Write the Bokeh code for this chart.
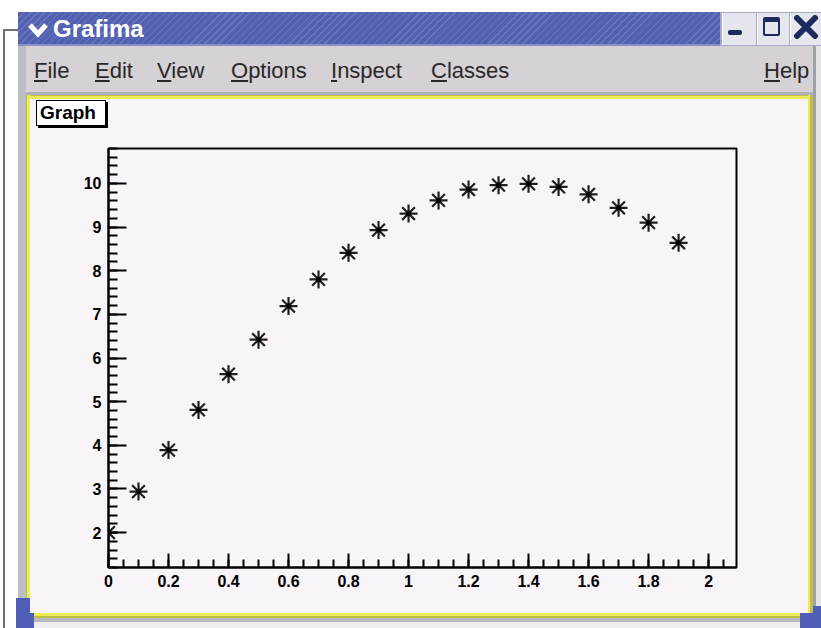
import numpy as np
from bokeh.plotting import figure
from bokeh.models import FixedTicker, Range1d, Div
from bokeh.layouts import column, row
from bokeh.embed import file_html
from bokeh.resources import INLINE

# ---- data ----
x_vals = [0.0, 0.1, 0.2, 0.3, 0.4, 0.5, 0.6, 0.7, 0.8, 0.9,
          1.0, 1.1, 1.2, 1.3, 1.4, 1.5, 1.6, 1.7, 1.8, 1.9]
y_vals = [2.00, 2.94, 3.89, 4.81, 5.63, 6.42, 7.19, 7.80, 8.41, 8.93,
          9.31, 9.61, 9.86, 9.96, 9.99, 9.92, 9.75, 9.44, 9.10, 8.64]
x_ticks = [0, 0.2, 0.4, 0.6, 0.8, 1, 1.2, 1.4, 1.6, 1.8, 2]
x_tick_labels = ["0", "0.2", "0.4", "0.6", "0.8", "1", "1.2", "1.4", "1.6", "1.8", "2"]
y_ticks = [2, 3, 4, 5, 6, 7, 8, 9, 10]
y_tick_labels = ["2", "3", "4", "5", "6", "7", "8", "9", "10"]
window_title = "Grafima"
menu_items = ["File", "Edit", "View", "Options", "Inspect", "Classes"]
help_item = "Help"
pad_title = "Graph"

W = 821
TOP_H = 130        # reference y 0..130
MID_H = 483        # reference y 130..613
BOT_H = 15         # reference y 613..628
LEFT_W = 30        # reference x 0..30
FIG_W = 778        # reference x 30..808
RIGHT_W = 13       # reference x 808..821

CANVAS_BG = "#f8f4f8"
MENU_BG = "#d5d1d5"
YEL = "#ecec58"
OLIVE = "#bebe48"
FRAME = "#bdbdc5"
BLUE = "#5361b1"
DESK_BLUE = "#4f5fb8"
FONT = "'Liberation Sans', Arial, sans-serif"


def rect(x0, y0, x1, y1, style, ox=0, oy=0):
    return (f'<div style="position:absolute;left:{x0 - ox}px;top:{y0 - oy}px;'
            f'width:{x1 - x0}px;height:{y1 - y0}px;{style}"></div>')


def txt(x, ymid, s, size, style, underline_first=False):
    if underline_first:
        s = f'<span style="text-decoration:underline">{s[0]}</span>{s[1:]}'
    return (f'<div style="position:absolute;left:{x}px;top:{ymid - size * 0.6:.1f}px;'
            f'line-height:{size * 1.2:.1f}px;font-size:{size}px;font-family:{FONT};'
            f'white-space:nowrap;{style}">{s}</div>')


def wrap(inner, w, h, bg=CANVAS_BG):
    return (f'<div style="position:relative;width:{w}px;height:{h}px;overflow:hidden;'
            f'background:{bg};">{inner}</div>')


# ---- top chrome: title bar, menu bar, canvas top with pad title ----
top = []
top.append(rect(0, 0, 821, 12, "background:white;"))
top.append(rect(0, 0, 18, 130, "background:white;"))
top.append(rect(3, 29, 18, 31, "background:#707078;"))
top.append(rect(3, 29, 5, 130, "background:#707078;"))
top.append(rect(18, 12, 30, 130, f"background:{FRAME};"))
top.append(rect(18, 12, 722, 46,
                f"background:repeating-linear-gradient(135deg,{BLUE} 0px,{BLUE} 4px,#6a77c0 4px,#6a77c0 5px);"))
top.append(rect(18, 44, 722, 46, "background:#8890c8;"))
top.append(rect(720, 12, 821, 46, "background:#a8acc8;"))
for bx0, bx1 in [(722, 756), (757, 789), (790, 821)]:
    top.append(rect(bx0, 13, bx1, 45, "background:#e6e6ee;border-left:1px solid #ffffff;"))
top.append(rect(728, 30, 742, 35, "background:#1e2a5e;border-radius:2px;"))
top.append(rect(763, 17, 780, 36, "background:#e6e6ee;border:2px solid #1e2a5e;border-top-width:5px;"
                                   "border-radius:2px;box-sizing:border-box;"))
top.append(
    '<svg style="position:absolute;left:793px;top:15px" width="26" height="24" viewBox="0 0 26 24">'
    '<path d="M4 3 L22 21 M22 3 L4 21" stroke="#1e2a5e" stroke-width="6" stroke-linecap="round"/></svg>')
top.append(
    '<svg style="position:absolute;left:27px;top:21px" width="22" height="18" viewBox="0 0 22 18">'
    '<path d="M3 4 L11 13 L19 4" stroke="white" stroke-width="5" fill="none" stroke-linejoin="miter"/></svg>')
top.append(txt(53, 29, window_title, 24, "color:white;font-weight:bold;"))
top.append(rect(26, 46, 821, 95, f"background:{MENU_BG};"))
top.append(rect(26, 92, 821, 95, "background:#b0b0b8;"))
menu_x = [34, 95, 157, 231, 331, 431]
for mx, item in zip(menu_x, menu_items):
    top.append(txt(mx, 71, item, 22, "color:#282828;", underline_first=True))
top.append(txt(764, 71, help_item, 22, "color:#282828;", underline_first=True))
top.append(rect(26, 95, 813, 99, f"background:{YEL};border-top:1px solid {OLIVE};box-sizing:border-box;"))
top.append(rect(26, 95, 30, 130, f"background:{YEL};border-left:1px solid {OLIVE};box-sizing:border-box;"))
top.append(rect(808, 95, 813, 130, f"background:{OLIVE};border-left:2px solid {YEL};box-sizing:border-box;"))
top.append(rect(813, 46, 821, 130, "background:#e4e4e8;border-left:3px solid #a0a0a8;box-sizing:border-box;"))
top.append(rect(36, 100, 106, 126,
                "background:white;border:1px solid black;box-shadow:2px 2px 0 black;box-sizing:border-box;"))
top.append(txt(40, 113, pad_title, 19, "color:black;font-weight:bold;"))
top_div = Div(text=wrap("".join(top), W, TOP_H), width=W, height=TOP_H, margin=0,
              styles={"background-color": CANVAS_BG})

# ---- left / right / bottom chrome ----
left = [rect(0, 130, 18, 613, "background:white;", oy=130),
        rect(3, 130, 5, 613, "background:#707078;", oy=130),
        rect(18, 130, 26, 613, f"background:{FRAME};", oy=130),
        rect(26, 130, 30, 613, f"background:{YEL};border-left:1px solid {OLIVE};box-sizing:border-box;", oy=130),
        rect(16, 598, 34, 613, f"background:{DESK_BLUE};", oy=130)]
left_div = Div(text=wrap("".join(left), LEFT_W, MID_H), width=LEFT_W, height=MID_H, margin=0)

right = [rect(808, 130, 813, 613, f"background:{OLIVE};border-left:2px solid {YEL};box-sizing:border-box;",
              ox=808, oy=130),
         rect(813, 130, 821, 613, "background:#e4e4e8;border-left:3px solid #a0a0a8;box-sizing:border-box;",
              ox=808, oy=130),
         rect(813, 606, 821, 613, f"background:{DESK_BLUE};", ox=808, oy=130)]
right_div = Div(text=wrap("".join(right), RIGHT_W, MID_H), width=RIGHT_W, height=MID_H, margin=0)

bot = [rect(0, 613, 821, 628, "background:white;", oy=613),
       rect(3, 613, 5, 628, "background:#707078;", oy=613),
       rect(18, 613, 26, 620, f"background:{FRAME};", oy=613),
       rect(26, 613, 813, 618, f"background:{YEL};border-bottom:2px solid {OLIVE};box-sizing:border-box;", oy=613),
       rect(26, 618, 813, 622, "background:#b8b8c0;", oy=613),
       rect(26, 622, 813, 628, "background:#eeeef2;", oy=613),
       rect(16, 598, 34, 628, f"background:{DESK_BLUE};", oy=613),
       rect(800, 606, 821, 628, f"background:{DESK_BLUE};", oy=613)]
bot_div = Div(text=wrap("".join(bot), W, BOT_H), width=W, height=BOT_H, margin=0)

# ---- the graph ----
p = figure(width=FIG_W, height=MID_H, output_backend="svg", toolbar_location=None,
           x_range=Range1d(0, 2.093), y_range=Range1d(1.2, 10.8),
           min_border_left=108 - 30, min_border_right=FIG_W - (736 - 30),
           min_border_top=148 - 130, min_border_bottom=MID_H - (567 - 130))
p.background_fill_color = CANVAS_BG
p.border_fill_color = CANVAS_BG
p.outline_line_color = "black"
p.outline_line_width = 2
p.grid.visible = False

minor_x = [round(v, 3) for v in np.arange(0, 2.09, 0.05)]
minor_y = [round(v, 3) for v in np.arange(1.2, 10.81, 0.2)]
p.xaxis.ticker = FixedTicker(ticks=x_ticks, minor_ticks=minor_x)
p.yaxis.ticker = FixedTicker(ticks=y_ticks, minor_ticks=minor_y)
p.xaxis.major_label_overrides = dict(zip(x_ticks, x_tick_labels))
p.yaxis.major_label_overrides = dict(zip(y_ticks, y_tick_labels))
for ax in (p.xaxis, p.yaxis):
    ax.axis_line_color = "black"
    ax.axis_line_width = 2
    ax.major_tick_out = 0
    ax.minor_tick_out = 0
    ax.major_tick_line_width = 2
    ax.minor_tick_line_width = 2
    ax.major_label_text_font = "Liberation Sans"
    ax.major_label_text_font_style = "bold"
    ax.major_label_text_font_size = "16px"
    ax.major_label_text_color = "black"
    ax.major_label_standoff = 7
p.xaxis.major_tick_in = 14
p.xaxis.minor_tick_in = 8
p.yaxis.major_tick_in = 18
p.yaxis.minor_tick_in = 9

p.scatter(x_vals, y_vals, marker="asterisk", size=18, line_color="#202020", line_width=2.2)
p.scatter(x_vals, y_vals, marker="circle", size=5, fill_color="black", line_color=None)

layout = column(top_div, row(left_div, p, right_div, spacing=0,
                             styles={"background-color": CANVAS_BG}),
                bot_div, spacing=0, styles={"background-color": CANVAS_BG})

open("out.html", "w").write(file_html(layout, INLINE))
